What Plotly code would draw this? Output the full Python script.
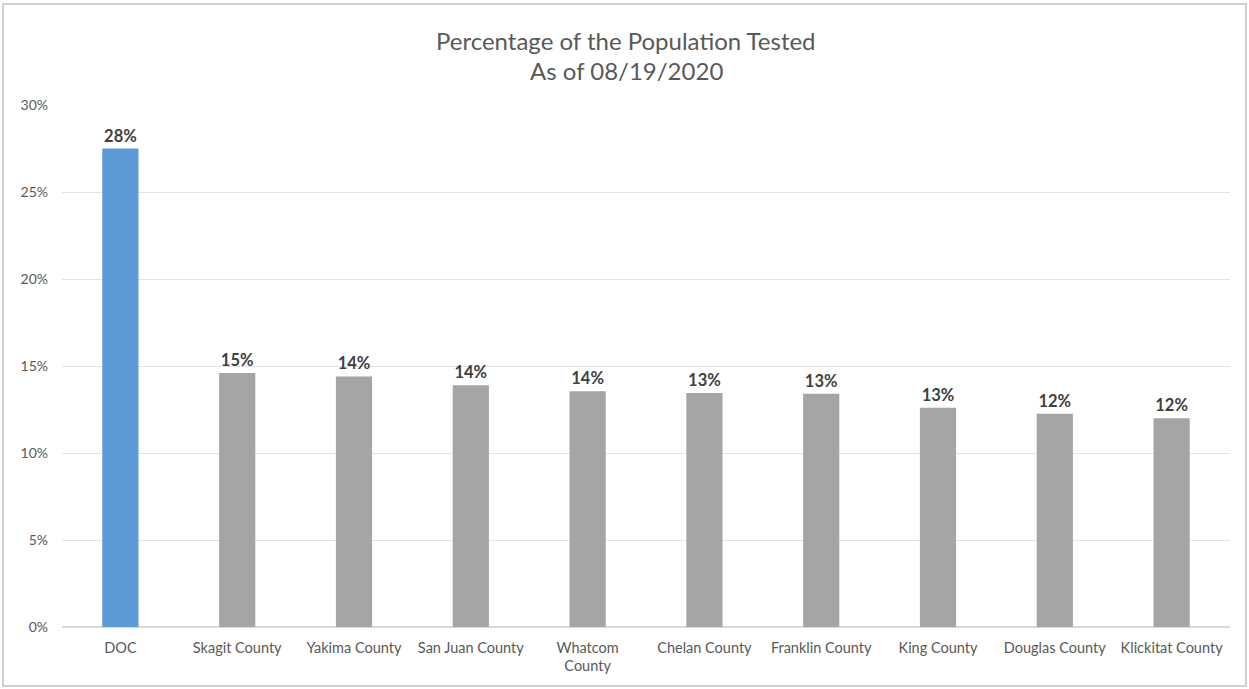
import plotly.graph_objects as go

categories = ["DOC", "Skagit County", "Yakima County", "San Juan County", "Whatcom<br>County",
              "Chelan County", "Franklin County", "King County", "Douglas County", "Klickitat County"]
values = [0.275, 0.146, 0.144, 0.139, 0.1355, 0.1345, 0.134, 0.126, 0.1225, 0.120]
labels = ["28%", "15%", "14%", "14%", "14%", "13%", "13%", "13%", "12%", "12%"]
title_lines = ["Percentage of the Population Tested", "As of 08/19/2020"]
colors = ["#5b9bd5"] + ["#a5a5a5"] * 9

W, H = 1249, 689
ml, mr, mt, mb = 62, 19, 105, 62
pw, ph = W - ml - mr, H - mt - mb

fig = go.Figure(go.Bar(
    x=categories, y=values, marker=dict(color=colors, line=dict(width=0)),
    width=0.31, text=labels, textposition="outside", cliponaxis=False,
    textfont=dict(family="Lato, Open Sans, sans-serif", size=16.5, color="#404040"),
    texttemplate="<b>%{text}</b>", hoverinfo="skip"))

fig.update_layout(
    width=W, height=H, margin=dict(l=ml, r=mr, t=mt, b=mb),
    paper_bgcolor="white", plot_bgcolor="white",
    font=dict(family="Lato, Open Sans, sans-serif", color="#595959"),
    showlegend=False,
    yaxis=dict(range=[0, 0.30], dtick=0.05, tickformat=".0%", showgrid=True,
               gridcolor="#e3e3e3", gridwidth=1, zeroline=True, zerolinecolor="#d9d9d9",
               tickfont=dict(size=14, color="#595959"), ticks="", showline=False,
               ticklabelstandoff=13),
    xaxis=dict(tickfont=dict(size=14.5, color="#595959"), showline=False, ticks="",
               tickangle=0, ticklabelstandoff=10),
    bargap=0.69,
)

# title lines
for line, yc in zip(title_lines, [40, 70]):
    fig.add_annotation(text=line, xref="paper", yref="paper",
                       x=(626 - ml) / pw, y=1 - (yc - mt) / ph,
                       xanchor="center", yanchor="middle", showarrow=False,
                       font=dict(size=24, color="#595959"))

# outer chart border
fig.add_shape(type="rect", xref="paper", yref="paper",
              x0=(3 - ml) / pw, x1=(1246 - ml) / pw,
              y0=1 - (686 - mt) / ph, y1=1 - (4 - mt) / ph,
              line=dict(color="#d0d0d0", width=2), fillcolor="rgba(0,0,0,0)", layer="below")

fig.write_html("out.html")
